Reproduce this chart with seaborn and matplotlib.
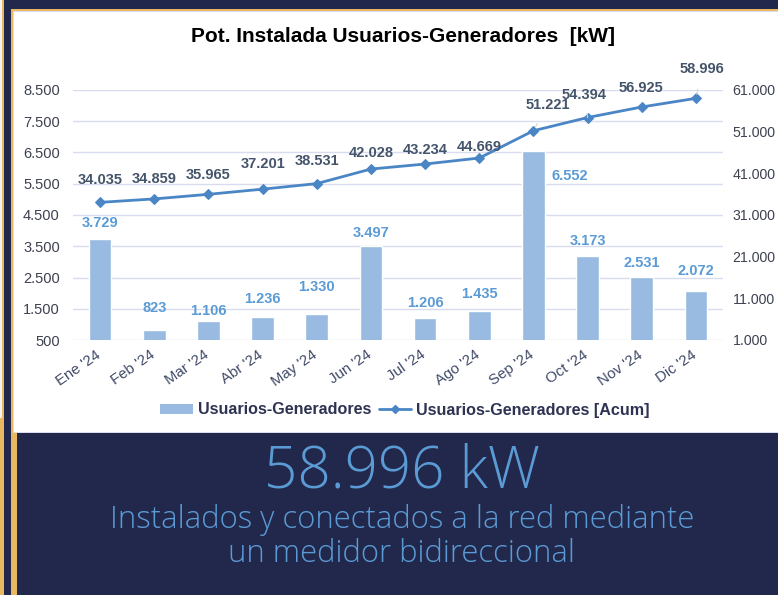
import numpy as np
import pandas as pd
import matplotlib.pyplot as plt
import seaborn as sns
from matplotlib.patches import Rectangle
from matplotlib.lines import Line2D
from matplotlib.transforms import ScaledTranslation

# ----- data -----
months = ["Ene '24", "Feb '24", "Mar '24", "Abr '24", "May '24", "Jun '24",
          "Jul '24", "Ago '24", "Sep '24", "Oct '24", "Nov '24", "Dic '24"]
monthly_kw = [3729, 823, 1106, 1236, 1330, 3497, 1206, 1435, 6552, 3173, 2531, 2072]
acum_kw = [34035, 34859, 35965, 37201, 38531, 42028, 43234, 44669, 51221, 54394, 56925, 58996]

title = 'Pot. Instalada Usuarios-Generadores  [kW]'
bar_name = 'Usuarios-Generadores'
line_name = 'Usuarios-Generadores [Acum]'
total_text = '58.996 kW'
sub_text = 'Instalados y conectados a la red mediante\nun medidor bidireccional'

# label offsets in pixels (styling only)
bar_off = [(0, 16), (0, 22), (0, 10), (0, 18), (0, 27), (0, 13),
           (0, 15), (0, 17), (36, -25), (0, 15), (0, 14), (0, 20)]
line_off = [(0, 22), (0, 20), (0, 19), (0, 25), (0, 23), (0, 16),
            (0, 14), (0, 11), (14, 26), (-3, 23), (-1, 19), (6, 29)]
leader = [8, 9, 11]

NAVY = '#22284b'
GOLD = '#e8b960'
BAR = '#99bbe2'
LINE = '#4a86c5'
LBL_BAR = '#5b9bd5'
LBL_LINE = '#44546a'
TXT = '#3d4150'

def fmt(v):
    return f'{v:,}'.replace(',', '.')

sns.set_theme(style='white')
plt.rcParams['font.family'] = ['Liberation Sans', 'DejaVu Sans']

W, H = 778, 595
fig = plt.figure(figsize=(7.78, 5.95), dpi=100)
fig.patch.set_facecolor(NAVY)

def box(x, y, w, h, c):
    fig.add_artist(Rectangle((x / W, 1 - (y + h) / H), w / W, h / H,
                             transform=fig.transFigure, facecolor=c, lw=0, zorder=0))

# frame decoration
box(0, 0, 4, 595, GOLD)
box(0, 0, 1.5, 418, '#f2f2f6')
box(10.5, 9, 767.5, 424, GOLD)
box(12.5, 11, 765.5, 422, '#dcdcf0')
box(14, 12.5, 764, 419, 'white')
box(11, 433, 5.7, 162, GOLD)

df = pd.DataFrame({'mes': months, 'kw': monthly_kw, 'acum': acum_kw})

ax = fig.add_axes([73 / W, 1 - 340 / H, 650 / W, 250 / H])
ax.set_facecolor('none')
sns.barplot(data=df, x='mes', y='kw', color=BAR, width=0.42, saturation=1, ax=ax)
ax.set_ylim(500, 8500)
ticks_l = list(range(500, 8501, 1000))
ax.set_yticks(ticks_l)
ax.set_yticklabels([fmt(t) for t in ticks_l])
ax.yaxis.grid(True, color='#d9dcee', lw=1)
ax.set_axisbelow(True)
ax.set_xlabel('')
ax.set_ylabel('')

ax2 = ax.twinx()
sns.lineplot(x=np.arange(len(acum_kw)), y=df['acum'], ax=ax2, color=LINE,
             lw=2, marker='D', markersize=5, markeredgecolor=LINE)
ax2.set_ylim(1000, 61000)
ticks_r = list(range(1000, 61001, 10000))
ax2.set_yticks(ticks_r)
ax2.set_yticklabels([fmt(t) for t in ticks_r])
ax2.set_ylabel('')
ax.set_xlim(-0.5, 11.5)

for a in (ax, ax2):
    for s in a.spines.values():
        s.set_visible(False)
    a.tick_params(length=0, labelsize=10.5, colors=TXT)
ax.tick_params(axis='y', pad=9.5)
ax2.tick_params(axis='y', pad=7, labelsize=10.2)
ax.set_xticks(range(len(months)))
ax.set_xticklabels(months, rotation=35, ha='right', rotation_mode='anchor',
                   color='#404a68', fontsize=10.8)
ax.tick_params(axis='x', pad=4)
shift = ScaledTranslation(-5 / 100, -2 / 100, fig.dpi_scale_trans)
for lbl in ax.get_xticklabels():
    lbl.set_transform(lbl.get_transform() + shift)

for i, v in enumerate(monthly_kw):
    ax.annotate(fmt(v), (i, v), xytext=bar_off[i], textcoords='offset pixels',
                ha='center', va='center', color=LBL_BAR, fontweight='bold', fontsize=10.5)

for i, v in enumerate(acum_kw):
    arrow = dict(arrowstyle='-', color='#d4d4d4', lw=0.8, shrinkA=7, shrinkB=3) if i in leader else None
    ax2.annotate(fmt(v), (i, v), xytext=line_off[i], textcoords='offset pixels',
                 ha='center', va='center', color=LBL_LINE, fontweight='bold',
                 fontsize=10.5, arrowprops=arrow)

handles = [Rectangle((0, 0), 1, 1, facecolor=BAR, lw=0),
           Line2D([], [], color=LINE, lw=2, marker='D', markersize=4)]
fig.legend(handles, [bar_name, line_name], loc='center',
           bbox_to_anchor=(405 / W, 1 - 410 / H), ncol=2, frameon=False,
           prop=dict(weight='bold', size=11.6), labelcolor='#2e3352',
           handlelength=2.0, handleheight=0.55, columnspacing=0.5, handletextpad=0.3)

fig.text(403 / W, 1 - 37 / H, title, ha='center', va='center',
         fontsize=15, fontweight='bold', color='black')

fig.text(402 / W, 1 - 472 / H, total_text, ha='center', va='center',
         fontsize=42, color='#5b9bd5', family='Open Sans', fontweight='light')
fig.text(402 / W, 1 - 537 / H, sub_text, ha='center', va='center',
         fontsize=22.3, color='#5b9bd5', family='Open Sans', fontweight='light',
         linespacing=1.08)

fig.savefig('out.png', dpi=100, facecolor=fig.get_facecolor())
